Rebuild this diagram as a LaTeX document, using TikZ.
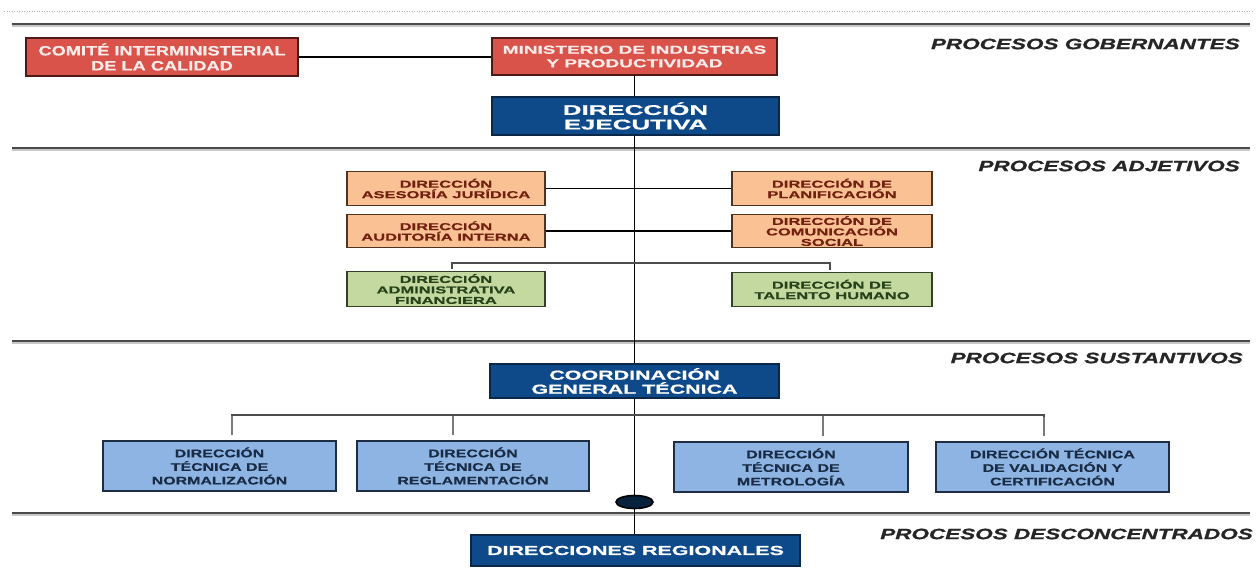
\documentclass[tikz,border=0pt]{standalone}
\usepackage{fontspec}
\setmainfont{Liberation Sans}
\newfontfamily\labfont[FakeStretch=1.5, BoldItalicFeatures={FakeBold=0.9}]{Liberation Sans}
\newfontfamily\boxfont[FakeStretch=1.65, BoldFeatures={FakeBold=0.8}]{Liberation Sans}
\newfontfamily\exefont[FakeStretch=1.85, BoldFeatures={FakeBold=0.8}]{Liberation Sans}
\newfontfamily\comfont[FakeStretch=1.35, BoldFeatures={FakeBold=0.8}]{Liberation Sans}
\newfontfamily\tecfont[FakeStretch=1.45, BoldFeatures={FakeBold=0.5}]{Liberation Sans}
\usetikzlibrary{calc,shapes.geometric}
\definecolor{redfill}{HTML}{D9534B}
\definecolor{redline}{HTML}{4A1A18}
\definecolor{redtext}{HTML}{FBECEA}
\definecolor{navyfill}{HTML}{0E4A8A}
\definecolor{navyline}{HTML}{0A2748}
\definecolor{orfill}{HTML}{FAC294}
\definecolor{orline}{HTML}{4E3320}
\definecolor{ortext}{HTML}{72200F}
\definecolor{grfill}{HTML}{C4D9A0}
\definecolor{grline}{HTML}{34402A}
\definecolor{grtext}{HTML}{27421A}
\definecolor{lbfill}{HTML}{8DB4E2}
\definecolor{lbline}{HTML}{1E2C44}
\definecolor{lbtext}{HTML}{1A2C45}
\definecolor{secline}{HTML}{4A4A4A}
\definecolor{secshadow}{HTML}{C8C8C8}
\definecolor{stubcol}{HTML}{7A7A7A}
\tikzset{
  base/.style={inner sep=0pt, align=center, line width=1.3pt},
  redbox/.style={base, draw=redline, fill=redfill, text=redtext,
    font=\boxfont\bfseries\fontsize{11.5}{13.5}\selectfont},
  navybox/.style={base, draw=navyline, fill=navyfill, text=white,
    font=\boxfont\bfseries\fontsize{13}{14}\selectfont},
  orbox/.style={base, draw=orline, fill=orfill, text=ortext,
    minimum height=33.5pt, font=\boxfont\bfseries\fontsize{10}{10.5}\selectfont},
  grbox/.style={base, draw=grline, fill=grfill, text=grtext,
    minimum height=34.5pt, font=\boxfont\bfseries\fontsize{10}{10.5}\selectfont},
  lbbox/.style={base, draw=lbline, fill=lbfill, text=lbtext,
    minimum height=50pt, font=\tecfont\bfseries\fontsize{11}{13.6}\selectfont},
  secline/.style={draw=secline, line width=1.8pt},
  secshade/.style={draw=secshadow, line width=1.6pt},
  seclabel/.style={anchor=east, inner sep=0pt,
    font=\labfont\bfseries\itshape\fontsize{15}{16}\selectfont, text=black!85},
  conn/.style={draw=black, line width=1.3pt},
  stub/.style={draw=stubcol, line width=2.4pt},
  barline/.style={draw=black!70, line width=1.5pt}
}
\begin{document}
\begin{tikzpicture}[x=1pt, y=-1pt]
\useasboundingbox (0,0) rectangle (1256,574);
\fill[white] (0,0) rectangle (1256,574);
% dotted top rule
\draw[black!30, line width=0.8pt, dash pattern=on 1pt off 1.5pt] (4,11) -- (1252,11);
% section rules
\foreach \yy in {24,148,341,513} {
  \draw[secshade] (12,\yy+1.8) -- (1250,\yy+1.8);
  \draw[secline] (12,\yy) -- (1250,\yy);
}
% section labels
\node[seclabel] (lgob) at (1240,44) {PROCESOS GOBERNANTES};
\node[seclabel] (ladj) at (1240,166) {PROCESOS ADJETIVOS};
\node[seclabel] (lsus) at (1243,358) {PROCESOS SUSTANTIVOS};
\node[seclabel] (ldes) at (1253,534) {PROCESOS DESCONCENTRADOS};

% governing
\node[redbox, minimum width=272pt, minimum height=38pt,
  font=\comfont\bfseries\fontsize{13.5}{15}\selectfont] (comite) at (162,57)
  {COMITÉ INTERMINISTERIAL\\DE LA CALIDAD};
\node[redbox, minimum width=285pt, minimum height=37pt] (ministerio) at (634.5,56.5)
  {MINISTERIO DE INDUSTRIAS\\Y PRODUCTIVIDAD};
\node[navybox, minimum width=287pt, minimum height=38pt,
  font=\exefont\bfseries\fontsize{14}{14.5}\selectfont] (ejecutiva) at (635.5,116)
  {DIRECCIÓN\\EJECUTIVA};

% adjective
\node[orbox, minimum width=198pt] (asesoria) at (446,188.5) {DIRECCIÓN\\ASESORÍA JURÍDICA};
\node[orbox, minimum width=198pt] (auditoria) at (446,231) {DIRECCIÓN\\AUDITORÍA INTERNA};
\node[orbox, minimum width=200pt] (planif) at (832,188.5) {DIRECCIÓN DE\\PLANIFICACIÓN};
\node[orbox, minimum width=200pt] (comunic) at (832,231) {DIRECCIÓN DE\\COMUNICACIÓN\\SOCIAL};
\node[grbox, minimum width=198pt] (adminfin) at (446,289) {DIRECCIÓN\\ADMINISTRATIVA\\FINANCIERA};
\node[grbox, minimum width=200pt] (talento) at (832,289.5) {DIRECCIÓN DE\\TALENTO HUMANO};

% substantive
\node[navybox, minimum width=289pt, minimum height=34pt] (coord) at (634.5,381)
  {COORDINACIÓN\\GENERAL TÉCNICA};
\node[lbbox, minimum width=233pt] (normal) at (219.5,466) {DIRECCIÓN\\TÉCNICA DE\\NORMALIZACIÓN};
\node[lbbox, minimum width=232pt] (reglam) at (473,466) {DIRECCIÓN\\TÉCNICA DE\\REGLAMENTACIÓN};
\node[lbbox, minimum width=234pt] (metrol) at (791,467) {DIRECCIÓN\\TÉCNICA DE\\METROLOGÍA};
\node[lbbox, minimum width=233pt] (valid) at (1052.5,467) {DIRECCIÓN TÉCNICA\\DE VALIDACIÓN Y\\CERTIFICACIÓN};

% deconcentrated
\node[navybox, minimum width=329pt, minimum height=31pt] (regional) at (635.5,550.5)
  {DIRECCIONES REGIONALES};

% bar coordinates
\coordinate (gbar) at (634.5,263);
\coordinate (tbar) at (634.5,415);

% connectors
\draw[conn] (comite.east) -- (comite.east -| ministerio.west);
\draw[conn] (ministerio.south) -- (ministerio.south |- ejecutiva.north);
\draw[conn] (ministerio.south |- ejecutiva.south) -- (ministerio.south |- coord.north);
\draw[conn] (coord.south) -- (coord.south |- regional.north);
\draw[conn] (asesoria.east) -- (planif.west);
\draw[conn] (auditoria.east) -- (comunic.west);

% green bracket
\draw[stub] ($(adminfin.north)+(6,-2)$) -- ($(adminfin.north)+(6,-9)$);
\draw[stub] ($(talento.north)+(-2,-2)$) -- ($(talento.north)+(-2,-9)$);
\draw[barline] ($(adminfin.north)+(6,-2)$) |- (gbar) -| ($(talento.north)+(-2,-2)$);

% blue bracket
\draw[stub] ($(normal.north)+(12.5,-5)$) -- ($(normal.north)+(12.5,-25)$);
\draw[stub] ($(reglam.north)+(-20,-5)$) -- ($(reglam.north)+(-20,-25)$);
\draw[stub] ($(metrol.north)+(32,-5)$) -- ($(metrol.north)+(32,-25)$);
\draw[stub] ($(valid.north)+(-8.5,-5)$) -- ($(valid.north)+(-8.5,-25)$);
\draw[barline] ($(normal.north)+(12.5,-24)$) |- (tbar) -| ($(valid.north)+(-8.5,-24)$);

% ellipse on the spine
\node[ellipse, draw=black, line width=1.6pt, fill=navyline!85!black,
  minimum width=37pt, minimum height=13pt, inner sep=0pt] (ell) at (634.5,502) {};
\end{tikzpicture}
\end{document}
